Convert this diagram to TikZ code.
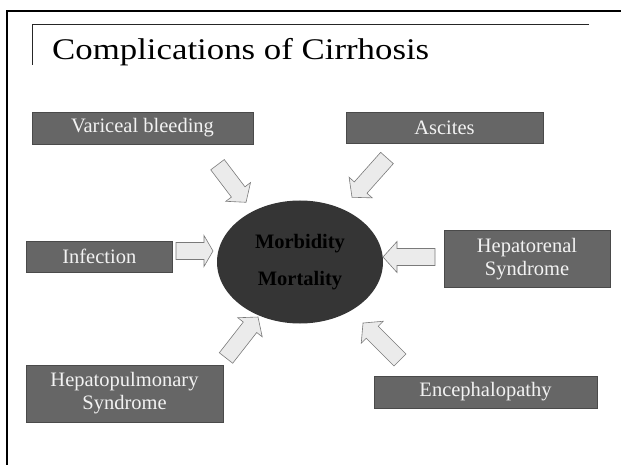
\documentclass[tikz,border=0pt]{standalone}
\usepackage{fontspec}
\setmainfont{Liberation Serif}
\usetikzlibrary{calc}
\definecolor{boxfill}{HTML}{666666}
\definecolor{boxedge}{HTML}{4A4A4A}
\definecolor{boxtext}{HTML}{F2F2F2}
\definecolor{ellfill}{HTML}{353535}
\definecolor{arrfill}{HTML}{EBEBEB}
\definecolor{arredge}{HTML}{7A7A7A}
\tikzset{
  compbox/.style={draw=boxedge, line width=0.8pt, fill=boxfill, text=boxtext,
    inner sep=0pt, align=center, font=\fontsize{20.5}{23}\selectfont},
  barrow/.style={draw=arredge, fill=arrfill, line width=0.6pt, line join=miter},
  centertext/.style={anchor=base, text=black, inner sep=0pt,
    font=\fontsize{20.5}{23}\selectfont\bfseries},
}
% #1 name, #2 tail point, #3 angle, #4 length, #5 head length
\newcommand\blockarrow[5]{%
  \begin{scope}[shift={(#2)}, rotate=#3]
    \coordinate (#1-tail) at (0,0);
    \coordinate (#1-tip) at (#4,0);
    \draw[barrow] (0,8.5) -- (#4-#5,8.5) -- (#4-#5,15.5) -- (#1-tip)
      -- (#4-#5,-15.5) -- (#4-#5,-8.5) -- (0,-8.5) -- cycle;
  \end{scope}}
\begin{document}
\begin{tikzpicture}[x=1pt,y=-1pt]
\useasboundingbox (0,0) rectangle (621,465);
% frame
\draw[line width=2.5pt, line cap=rect] (621,11) -- (7,11) -- (7,466);
\draw[line width=1pt, color=black!85] (589,24.5) -- (32,24.5) -- (32,65);
\node[anchor=base west, inner sep=0pt, xscale=1.16, font=\fontsize{30}{34}\selectfont]
  (title) at (52,59.5) {Complications of Cirrhosis};
% centre ellipse
\draw[fill=ellfill, draw=none] (300,262) ellipse [x radius=83, y radius=61.5];
\node[centertext] (morb) at (300,248) {Morbidity};
\node[centertext] (mort) at (300,285) {Mortality};
% boxes
\node[compbox, minimum width=221pt, minimum height=32pt] (vari) at (142.5,128) {Variceal bleeding};
\node[compbox, minimum width=197pt, minimum height=31.5pt] (asci) at (444.5,127.75) {Ascites};
\node[compbox, minimum width=146.7pt, minimum height=31.7pt] (infe) at (99.3,256.8) {Infection};
\node[compbox, minimum width=166pt, minimum height=56.3pt] (hren) at (527,259) {Hepatorenal\\Syndrome};
\node[compbox, minimum width=197pt, minimum height=57pt] (hpul) at (124.5,393.5) {Hepatopulmonary\\Syndrome};
\node[compbox, minimum width=223pt, minimum height=32pt] (ence) at (485.5,392) {Encephalopathy};
% block arrows
\blockarrow{avari}{217.5,164.7}{-52.8}{47.2}{13}
\blockarrow{aasci}{387,158}{-131.7}{52.6}{13}
\blockarrow{ainfe}{176,251}{0}{37}{9}
\blockarrow{ahren}{435,257}{180}{52}{14}
\blockarrow{ahpul}{226,358}{52}{52}{13}
\blockarrow{aence}{400,360}{135}{52.3}{13}
\end{tikzpicture}
\end{document}
